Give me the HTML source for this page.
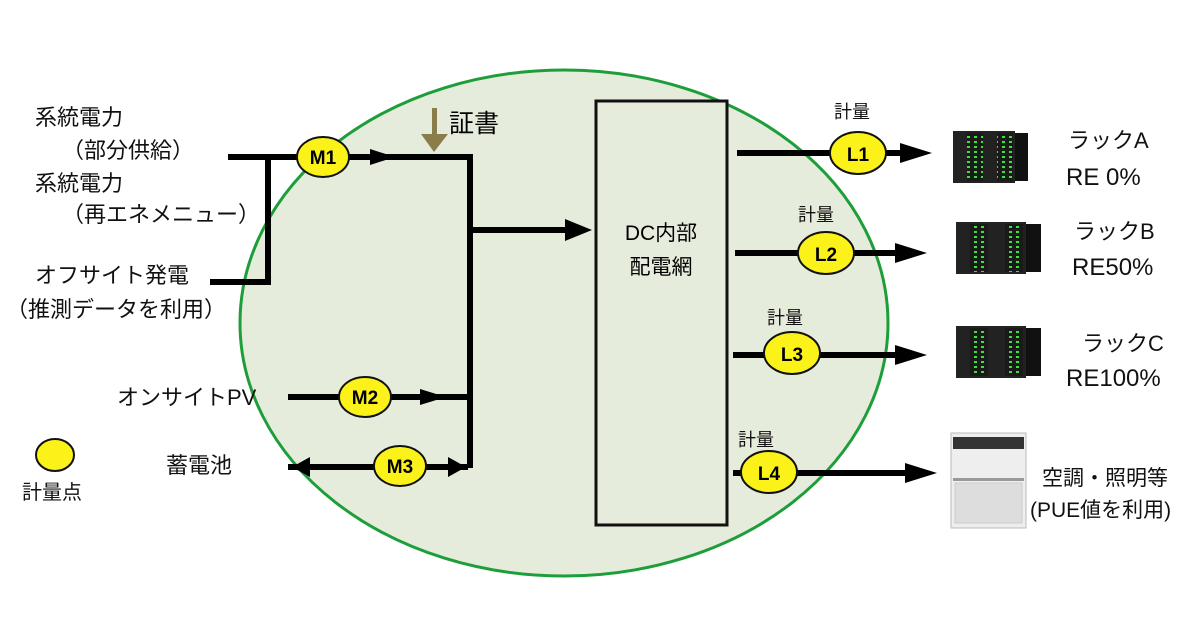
<!DOCTYPE html>
<html><head><meta charset="utf-8"><style>
body{margin:0;background:#fff;}
svg{display:block;font-family:"Liberation Sans","Noto Sans CJK JP",sans-serif;}
</style></head><body>
<svg width="1200" height="630" viewBox="0 0 1200 630">
<defs>
<pattern id="leds" width="7" height="5" patternUnits="userSpaceOnUse"><rect width="7" height="5" fill="#1a1a1a"/><rect x="1" y="1" width="3" height="2" fill="#3ee03e"/></pattern>
</defs>
<ellipse cx="564" cy="323" rx="324" ry="253" fill="#e6ecdc" stroke="#1e9e3a" stroke-width="3"/>
<rect x="596" y="101" width="131" height="424" fill="#e6ecdc" stroke="#111" stroke-width="3"/>
<text x="661" y="240" font-size="21" text-anchor="middle">DC内部</text>
<text x="661" y="274" font-size="21" text-anchor="middle">配電網</text>
<g stroke="#000" stroke-width="6" fill="none">
<path d="M228 157 H470 V468"/>
<path d="M268 157 V282 H210"/>
<path d="M468 230 H570"/>
<path d="M288 397 H468"/>
<path d="M288 467 H468"/>
<path d="M737 153 H905"/>
<path d="M735 253 H900"/>
<path d="M733 355 H900"/>
<path d="M733 473 H910"/>
</g>
<g fill="#000">
<polygon points="370,149 395,157 370,165"/>
<polygon points="565,219 592,230 565,241"/>
<polygon points="420,389 446,397 420,405"/>
<polygon points="448,457 466,467 448,477"/>
<polygon points="310,457 292,467 310,477"/>
<polygon points="900,143 932,153 900,163"/>
<polygon points="895,243 927,253 895,263"/>
<polygon points="895,345 927,355 895,365"/>
<polygon points="905,463 937,473 905,483"/>
</g>
<rect x="432" y="108" width="5" height="30" fill="#8b7d4a"/>
<polygon points="421,134 448,134 434,152" fill="#8b7d4a"/>
<text x="449" y="132" font-size="25">証書</text>
<g stroke="#111" stroke-width="2" fill="#fbf21a">
<ellipse cx="323" cy="157" rx="26" ry="20"/>
<ellipse cx="365" cy="397" rx="26" ry="20"/>
<ellipse cx="400" cy="466" rx="26" ry="20"/>
<ellipse cx="858" cy="153" rx="28" ry="21"/>
<ellipse cx="826" cy="253" rx="28" ry="21"/>
<ellipse cx="792" cy="353" rx="28" ry="21"/>
<ellipse cx="769" cy="472" rx="28" ry="21"/>
<ellipse cx="55" cy="455" rx="19" ry="16"/>
</g>
<g font-size="19" font-weight="bold" text-anchor="middle" fill="#000">
<text x="323" y="164">M1</text><text x="365" y="404">M2</text><text x="400" y="473">M3</text>
<text x="858" y="161">L1</text><text x="826" y="261">L2</text><text x="792" y="361">L3</text><text x="769" y="480">L4</text>
</g>
<g font-size="22" fill="#111">
<text x="35" y="125">系統電力</text>
<text x="62" y="158">（部分供給）</text>
<text x="35" y="191">系統電力</text>
<text x="62" y="222">（再エネメニュー）</text>
<text x="35" y="283">オフサイト発電</text>
<text x="6" y="317">（推測データを利用）</text>
<text x="117" y="405">オンサイトPV</text>
<text x="166" y="473">蓄電池</text>
<text x="22" y="499" font-size="20">計量点</text>
<text x="834" y="118" font-size="18">計量</text>
<text x="798" y="221" font-size="18">計量</text>
<text x="767" y="324" font-size="18">計量</text>
<text x="738" y="446" font-size="18">計量</text>
<text x="1068" y="148">ラックA</text>
<text x="1066" y="185" font-size="24">RE 0%</text>
<text x="1074" y="239">ラックB</text>
<text x="1072" y="275" font-size="24">RE50%</text>
<text x="1082" y="351">ラックC</text>
<text x="1066" y="386" font-size="24">RE100%</text>
<text x="1042" y="485" font-size="21">空調・照明等</text>
<text x="1030" y="517" font-size="21">(PUE値を利用)</text>
</g>
<g>
<rect x="953" y="131" width="62" height="52" fill="#222"/><rect x="1015" y="133" width="13" height="48" fill="#111"/>
<rect x="967" y="133" width="16" height="48" fill="url(#leds)"/><rect x="997" y="133" width="16" height="48" fill="url(#leds)"/>
<rect x="956" y="222" width="70" height="52" fill="#222"/><rect x="1026" y="224" width="15" height="48" fill="#111"/>
<rect x="970" y="224" width="18" height="48" fill="url(#leds)"/><rect x="1005" y="224" width="18" height="48" fill="url(#leds)"/>
<rect x="956" y="326" width="70" height="52" fill="#222"/><rect x="1026" y="328" width="15" height="48" fill="#111"/>
<rect x="970" y="328" width="18" height="48" fill="url(#leds)"/><rect x="1005" y="328" width="18" height="48" fill="url(#leds)"/>
<rect x="951" y="433" width="75" height="95" fill="#eee" stroke="#bbb"/>
<rect x="953" y="437" width="71" height="12" fill="#333"/>
<rect x="953" y="478" width="71" height="3" fill="#999"/>
<rect x="955" y="483" width="67" height="40" fill="#ddd" stroke="#ccc"/>
</g>
</svg>
</body></html>
